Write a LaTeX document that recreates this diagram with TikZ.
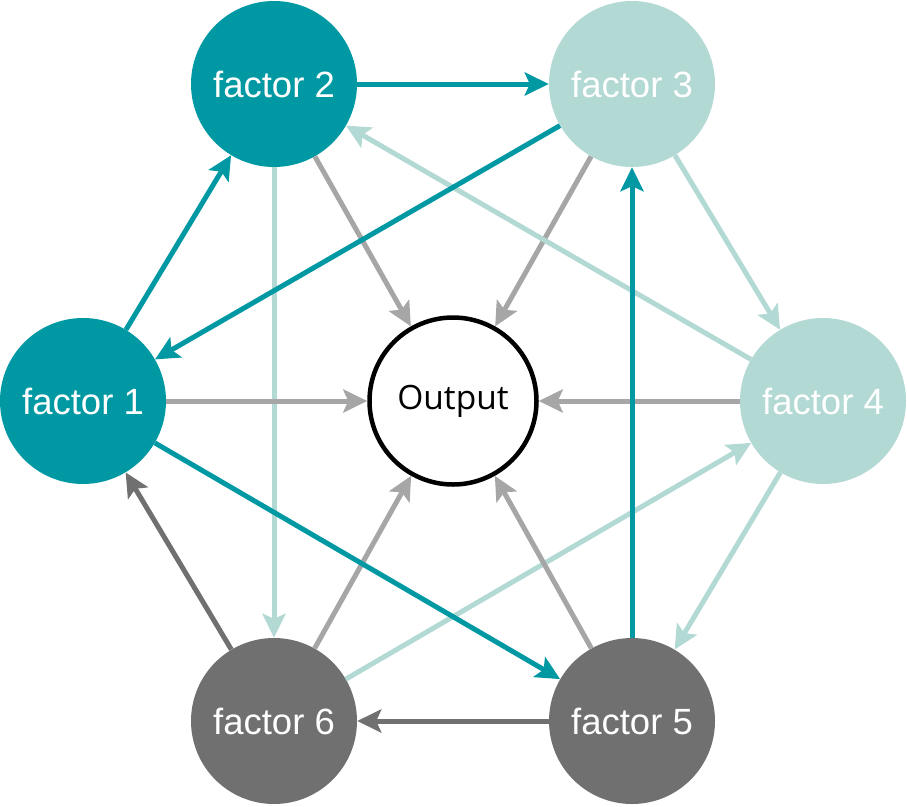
\documentclass[tikz,border=0pt]{standalone}
\usepackage{fontspec}
\setmainfont{Liberation Sans}
\newfontfamily\outfont{Open Sans}
\usetikzlibrary{arrows.meta}
\definecolor{teal1}{HTML}{0099A3}
\definecolor{lteal}{HTML}{B3D9D4}
\definecolor{dgray}{HTML}{707070}
\definecolor{mgray}{HTML}{A6A6A6}
\tikzset{
  fac/.style={circle, inner sep=0pt, minimum size=166pt, text=white,
    font=\fontsize{36.5}{40}\selectfont},
  outnode/.style={circle, draw=black, line width=4.5pt, fill=white, inner sep=0pt,
    minimum size=167pt, font=\outfont\fontsize{33.5}{38}\selectfont},
  edge/.style={line width=5pt, -{Stealth[length=24pt, width=23pt, inset=5pt]}},
}
\begin{document}
\begin{tikzpicture}[x=1pt, y=-1pt]
\useasboundingbox (0,0) rectangle (907,806);
\node[fac, fill=teal1] (f1) at (83,401) {factor 1};
\node[fac, fill=teal1] (f2) at (274,84) {factor 2};
\node[fac, fill=lteal] (f3) at (632,84) {factor 3};
\node[fac, fill=lteal] (f4) at (823,401) {factor 4};
\node[fac, fill=dgray] (f5) at (632,721) {factor 5};
\node[fac, fill=dgray] (f6) at (274,721) {factor 6};
\node[outnode] (out) at (453,401) {Output};
% light teal edges
\draw[edge, lteal] (f2) -- (f6);
\draw[edge, lteal] (f6) -- (f4);
\draw[edge, lteal] (f3) -- (f4);
\draw[edge, lteal] (f4) -- (f5);
% gray edges to output
\draw[edge, mgray] (f1) -- (out);
\draw[edge, mgray] (f2) -- (out);
\draw[edge, mgray] (f3) -- (out);
\draw[edge, mgray] (f4) -- (out);
\draw[edge, mgray] (f5) -- (out);
\draw[edge, mgray] (f6) -- (out);
\draw[edge, lteal] (f4) -- (f2);
% dark gray edges
\draw[edge, dgray] (f5) -- (f6);
\draw[edge, dgray] (f6) -- (f1);
% teal edges
\draw[edge, teal1] (f2) -- (f3);
\draw[edge, teal1] (f3) -- (f1);
\draw[edge, teal1] (f1) -- (f2);
\draw[edge, teal1] (f1) -- (f5);
\draw[edge, teal1] (f5) -- (f3);
\end{tikzpicture}
\end{document}
